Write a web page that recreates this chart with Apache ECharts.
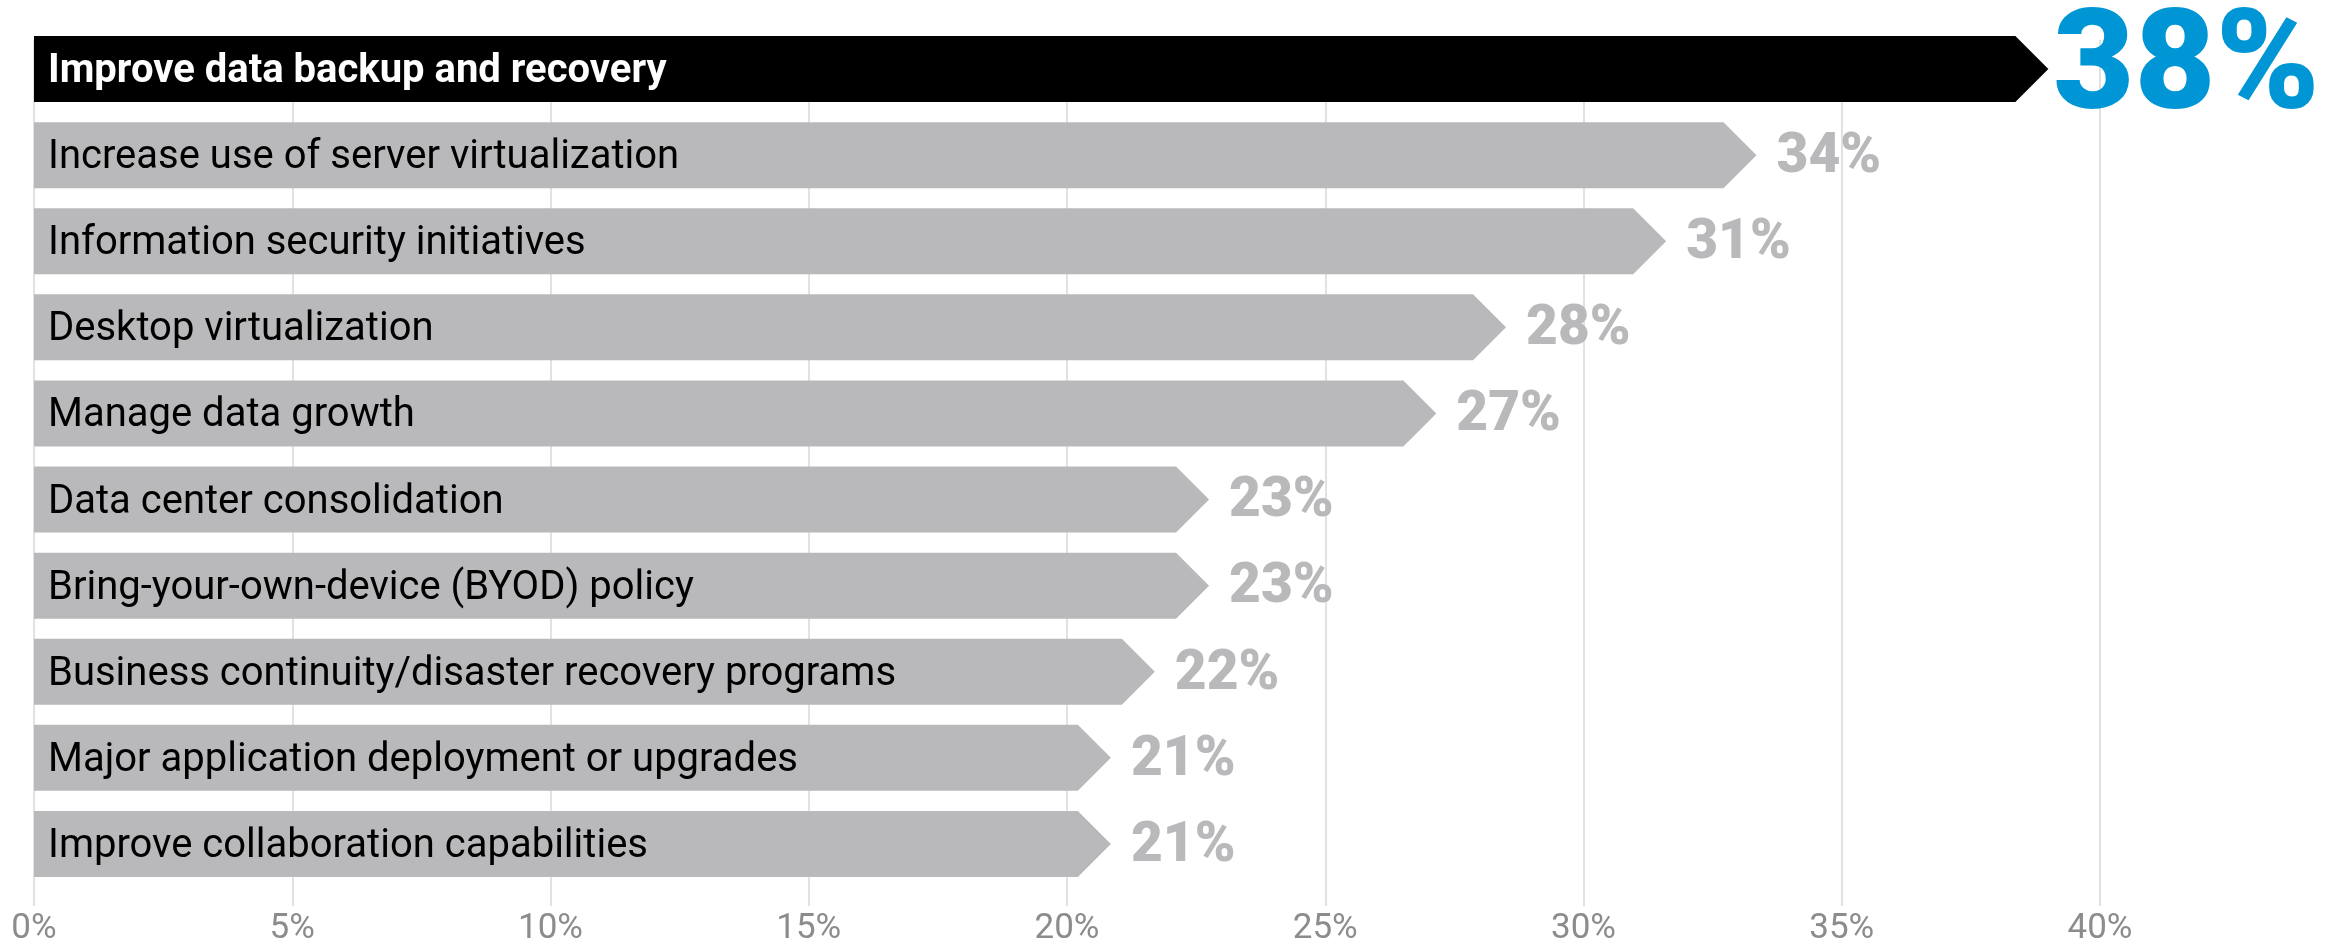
<!DOCTYPE html>
<html>
<head>
<meta charset="utf-8">
<script src="https://cdn.jsdelivr.net/npm/echarts@6/dist/echarts.min.js"></script>
<style>
  html, body { margin: 0; padding: 0; background: #ffffff; }
  #chart { width: 2344px; height: 947px; }
</style>
</head>
<body>
<div id="chart"></div>
<script>
// ---- data ----
const categories = [
  'Improve data backup and recovery',
  'Increase use of server virtualization',
  'Information security initiatives',
  'Desktop virtualization',
  'Manage data growth',
  'Data center consolidation',
  'Bring-your-own-device (BYOD) policy',
  'Business continuity/disaster recovery programs',
  'Major application deployment or upgrades',
  'Improve collaboration capabilities'
];
// printed percentages
const shares = [38, 34, 31, 28, 27, 23, 23, 22, 21, 21];
// where each arrow tip sits on the % axis in the picture
const arrowTips = [39.0, 33.35, 31.6, 28.5, 27.15, 22.75, 22.75, 21.7, 20.85, 20.85];
const xTicks = [0, 5, 10, 15, 20, 25, 30, 35, 40];

// ---- styles ----
const GRAY = '#b9b9bb';
const BLUE = '#0096d6';
const BAR_H = 66;

const chart = echarts.init(document.getElementById('chart'), null, { renderer: 'canvas' });

const seriesData = arrowTips.map((v, i) => [v, i, shares[i]]);

const option = {
  backgroundColor: '#ffffff',
  animation: false,
  grid: [
    { left: 34, right: 244, top: 26, bottom: 60 },
    { left: 34, right: 244, top: 40, bottom: 34 }
  ],
  xAxis: [
    { gridIndex: 0, type: 'value', min: xTicks[0], max: xTicks[xTicks.length - 1], interval: 5, show: false },
    {
      gridIndex: 1, type: 'value', min: xTicks[0], max: xTicks[xTicks.length - 1], interval: 5,
      axisLine: { show: false }, axisTick: { show: false },
      splitLine: { show: true, lineStyle: { color: '#e2e2e4', width: 2 } },
      axisLabel: {
        formatter: v => (xTicks.indexOf(v) >= 0 ? v + '%' : ''),
        color: '#8c8c8e', fontSize: 35, fontFamily: 'Roboto', margin: 6
      }
    }
  ],
  yAxis: [
    { gridIndex: 0, type: 'category', data: categories, inverse: true, show: false },
    { gridIndex: 1, type: 'value', show: false }
  ],
  series: [{
    type: 'custom',
    xAxisIndex: 0,
    yAxisIndex: 0,
    clip: false,
    encode: { x: 0, y: 1 },
    data: seriesData,
    z: 5,
    renderItem: function (params, api) {
      const idx = api.value(1);
      const tip = api.coord([api.value(0), idx]);
      const start = api.coord([0, idx]);
      const cy = tip[1];
      const h = BAR_H / 2;
      const first = idx === 0;
      const pts = [
        [start[0], cy - h],
        [tip[0] - h, cy - h],
        [tip[0], cy],
        [tip[0] - h, cy + h],
        [start[0], cy + h]
      ];
      return {
        type: 'group',
        children: [
          {
            type: 'polygon',
            shape: { points: pts },
            style: { fill: first ? '#000000' : GRAY }
          },
          {
            type: 'text',
            style: {
              text: categories[idx],
              x: start[0] + 14,
              y: cy + 3,
              fill: first ? '#ffffff' : '#000000',
              fontSize: 40,
              fontFamily: 'Roboto',
              fontWeight: first ? 'bold' : 'normal',
              align: 'left',
              verticalAlign: 'middle'
            }
          },
          {
            type: 'text',
            style: {
              text: api.value(2) + '%',
              x: tip[0] + (first ? 5 : 20),
              y: cy + (first ? 4 : 3),
              fill: first ? BLUE : GRAY,
              fontSize: first ? 140 : 55,
              fontFamily: 'Roboto',
              fontWeight: 900,
              align: 'left',
              verticalAlign: 'middle'
            }
          }
        ]
      };
    }
  }]
};

chart.setOption(option);
</script>
</body>
</html>
